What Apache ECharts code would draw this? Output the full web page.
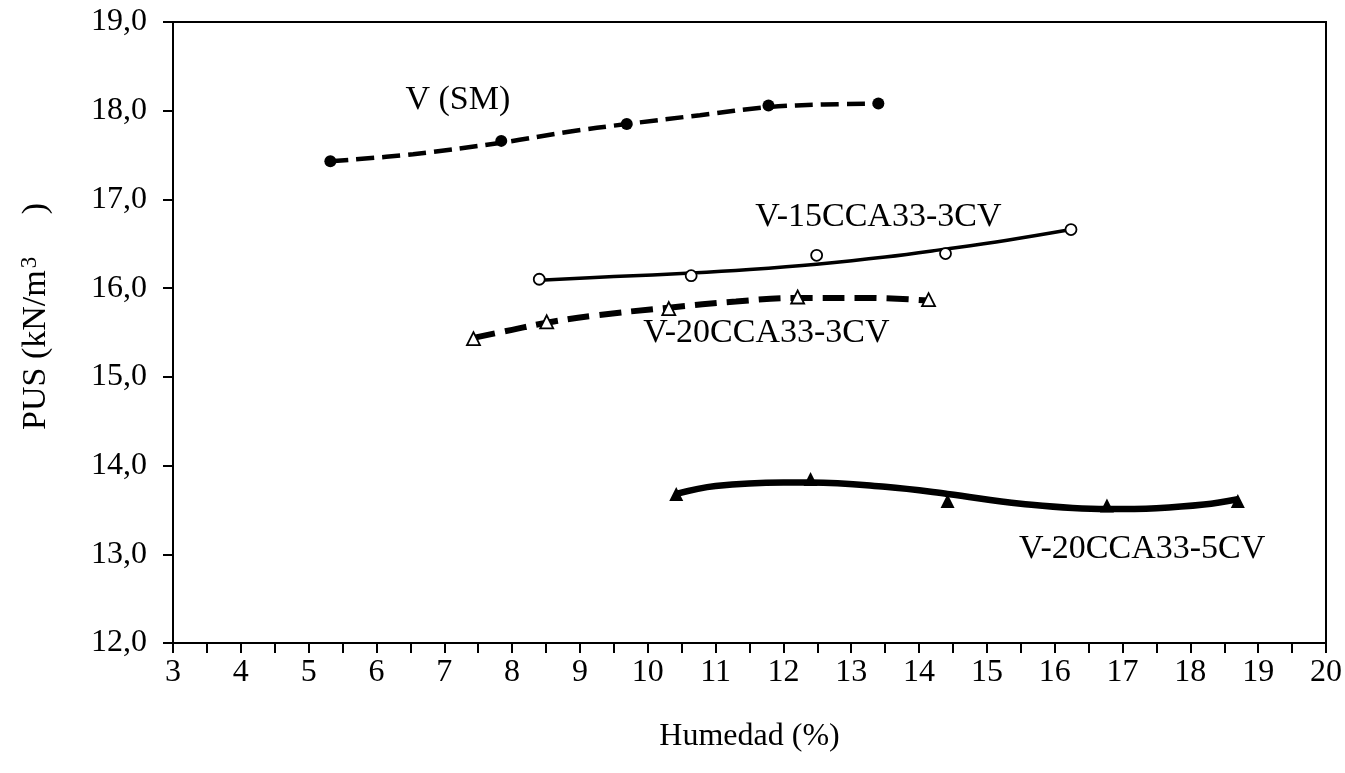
<!DOCTYPE html>
<html>
<head>
    <title>PUS vs Humedad</title>
    <script src="https://cdn.jsdelivr.net/npm/echarts@6/dist/echarts.min.js"></script>
    <style>
        body { margin: 0; background: #fff; }
        #grafico { width: 1345px; height: 773px; }
    </style>
</head>
<body>
    <div id="grafico"></div>

    <script>
        // Puntos medidos (humedad %, PUS kN/m3)
        const vsmX = [5.32, 7.84, 9.69, 11.78, 13.40];
        const vsmY = [17.43, 17.66, 17.85, 18.06, 18.08];
        const v15X = [8.40, 10.64, 12.49, 14.39, 16.24];
        const v15Y = [16.10, 16.14, 16.37, 16.39, 16.66];
        const v203X = [7.43, 8.51, 10.31, 12.21, 14.14];
        const v203Y = [15.43, 15.62, 15.77, 15.90, 15.87];
        const v205X = [10.42, 12.40, 14.42, 16.77, 18.70];
        const v205Y = [13.68, 13.85, 13.60, 13.55, 13.60];

        // Líneas de tendencia
        const vsmTrendX = [5.32, 6.54, 7.84, 8.81, 9.69, 10.77, 11.78, 12.60, 13.40];
        const vsmTrendY = [17.43, 17.51, 17.64, 17.76, 17.85, 17.95, 18.04, 18.07, 18.08];
        const v15TrendX = [8.40, 9.50, 10.64, 11.50, 12.49, 13.50, 14.39, 15.30, 16.24];
        const v15TrendY = [16.09, 16.13, 16.17, 16.21, 16.27, 16.35, 16.44, 16.54, 16.66];
        const v203TrendX = [7.43, 8.00, 8.51, 9.20, 10.31, 11.30, 12.21, 13.20, 14.14];
        const v203TrendY = [15.44, 15.53, 15.61, 15.69, 15.78, 15.85, 15.89, 15.89, 15.86];
        const v205TrendX = [10.42, 11.00, 12.00, 12.40, 13.50, 14.42, 15.50, 16.77, 17.50, 18.20, 18.70];
        const v205TrendY = [13.68, 13.77, 13.81, 13.81, 13.76, 13.68, 13.57, 13.51, 13.52, 13.56, 13.62];

        // Etiquetas de las curvas
        const etiquetas = ['V (SM)', 'V-15CCA33-3CV', 'V-20CCA33-3CV', 'V-20CCA33-5CV'];
        const etiquetaX = [7.2, 13.4, 11.75, 17.29];
        const etiquetaY = [18.12, 16.80, 15.49, 13.06];

        const fuente = "'Liberation Serif', 'Times New Roman', serif";

        function pares(xs, ys) {
            return xs.map((x, i) => [x, ys[i]]);
        }

        function tendencia(xs, ys, ancho, tipo) {
            return {
                type: 'line',
                data: pares(xs, ys),
                smooth: 0.4,
                symbol: 'none',
                lineStyle: { color: '#000', width: ancho, type: tipo, opacity: 1 },
                z: 2,
                silent: true
            };
        }

        function puntos(xs, ys, simbolo, tam, relleno) {
            return {
                type: 'scatter',
                data: pares(xs, ys),
                symbol: simbolo,
                symbolSize: tam,
                itemStyle: {
                    color: relleno ? '#000' : '#fff',
                    borderColor: '#000',
                    borderWidth: relleno ? 0 : 1.8,
                    opacity: 1
                },
                z: 3
            };
        }

        const grafico = echarts.init(document.getElementById('grafico'));

        grafico.setOption({
            animation: false,
            textStyle: { fontFamily: fuente },
            grid: {
                left: 173, right: 18, top: 22, bottom: 130,
                show: true, borderColor: '#000', borderWidth: 2
            },
            xAxis: {
                type: 'value',
                min: 3, max: 20, interval: 1,
                name: 'Humedad (%)',
                nameLocation: 'middle',
                nameGap: 78,
                nameTextStyle: { fontSize: 32, color: '#000', fontFamily: fuente },
                axisLine: { lineStyle: { color: '#000', width: 2 } },
                axisTick: { inside: false, length: 10, lineStyle: { color: '#000', width: 2 } },
                minorTick: { show: true, splitNumber: 2, length: 10, lineStyle: { color: '#000', width: 2 } },
                splitLine: { show: false },
                axisLabel: { fontSize: 32, color: '#000', margin: 14, fontFamily: fuente }
            },
            yAxis: {
                type: 'value',
                min: 12, max: 19, interval: 1,
                name: 'PUS (kN/m{sup|3}     )',
                nameLocation: 'middle',
                nameGap: 118,
                nameRotate: 90,
                nameTextStyle: {
                    fontSize: 34, color: '#000', fontFamily: fuente,
                    padding: [0, 0, 0, 32],
                    rich: {
                        sup: { fontSize: 23, fontFamily: fuente, color: '#000', verticalAlign: 'top', padding: [0, 0, 14, 2] }
                    }
                },
                axisLine: { lineStyle: { color: '#000', width: 2 } },
                axisTick: { inside: false, length: 10, lineStyle: { color: '#000', width: 2 } },
                splitLine: { show: false },
                axisLabel: {
                    fontSize: 32, color: '#000', margin: 26, fontFamily: fuente,
                    formatter: v => v.toFixed(1).replace('.', ',')
                }
            },
            series: [
                tendencia(vsmTrendX, vsmTrendY, 4.5, [18, 8]),
                tendencia(v15TrendX, v15TrendY, 3.5, 'solid'),
                tendencia(v203TrendX, v203TrendY, 6, [22, 10]),
                tendencia(v205TrendX, v205TrendY, 6.5, 'solid'),
                puntos(vsmX, vsmY, 'circle', 12, true),
                puntos(v15X, v15Y, 'circle', 11, false),
                puntos(v203X, v203Y, 'triangle', 13, false),
                puntos(v205X, v205Y, 'triangle', 14, true),
                {
                    type: 'scatter',
                    data: etiquetaX.map((x, i) => ({ value: [x, etiquetaY[i]], name: etiquetas[i] })),
                    symbolSize: 0,
                    silent: true,
                    itemStyle: { opacity: 1 },
                    label: {
                        show: true,
                        position: 'inside',
                        formatter: p => p.name,
                        fontSize: 34,
                        color: '#000',
                        opacity: 1,
                        textBorderWidth: 0,
                        fontFamily: fuente
                    },
                    z: 4
                }
            ]
        });
    </script>
</body>
</html>
